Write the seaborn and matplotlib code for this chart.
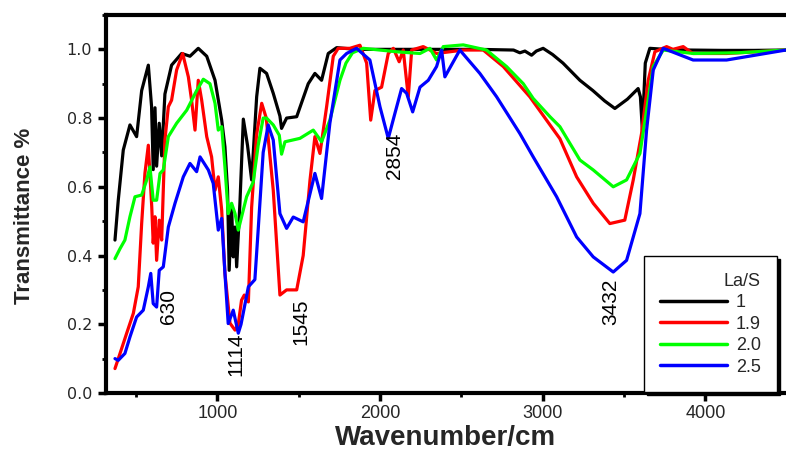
import matplotlib
matplotlib.use("Agg")
import matplotlib.pyplot as plt
import seaborn as sns
import pandas as pd
from matplotlib.ticker import MultipleLocator, FixedLocator

# ---------------- data ----------------
wn_1 = [370, 390, 421, 462, 503, 534, 575, 595, 605, 616, 626, 642, 657, 677, 718, 780, 831, 882, 934, 985,
        1026, 1046, 1062, 1072, 1087, 1097, 1108, 1118, 1138, 1159, 1185, 1210, 1241, 1261, 1302, 1343, 1384,
        1394, 1425, 1487, 1558, 1599, 1640, 1681, 1733, 1850, 2000, 2300, 2600, 2820, 2859, 2890, 2931, 2960,
        3002, 3060, 3124, 3228, 3308, 3380, 3443, 3520, 3586, 3600, 3612, 3630, 3658, 3750, 3900, 4100, 4300, 4494]
t_1 = [0.445, 0.56, 0.707, 0.78, 0.746, 0.88, 0.954, 0.833, 0.65, 0.83, 0.66, 0.785, 0.69, 0.87, 0.954, 0.988,
       0.98, 1.003, 0.98, 0.91, 0.794, 0.716, 0.59, 0.357, 0.54, 0.396, 0.483, 0.367, 0.552, 0.797, 0.72, 0.62,
       0.862, 0.945, 0.93, 0.872, 0.806, 0.77, 0.80, 0.804, 0.90, 0.93, 0.91, 0.988, 1.005, 1.0, 1.0, 1.0, 1.0,
       0.998, 0.99, 0.995, 0.983, 0.995, 1.003, 0.985, 0.96, 0.91, 0.88, 0.85, 0.828, 0.855, 0.886, 0.862, 0.765,
       0.96, 1.003, 1.0, 0.998, 0.997, 0.997, 0.998]

wn_19 = [370, 401, 442, 483, 513, 534, 554, 575, 596, 605, 616, 626, 642, 657, 677, 698, 718, 749, 786, 821,
         841, 862, 882, 903, 934, 964, 985, 1005, 1026, 1046, 1077, 1108, 1128, 1148, 1165, 1190, 1210, 1240,
         1272, 1300, 1343, 1384, 1425, 1487, 1527, 1569, 1599, 1630, 1671, 1712, 1742, 1814, 1876, 1917, 1942,
         1968, 2009, 2050, 2081, 2117, 2142, 2173, 2194, 2265, 2347, 2511, 2634, 2757, 2920, 3023, 3105, 3208,
         3310, 3412, 3504, 3556, 3607, 3648, 3689, 3761, 3800, 3863, 3922, 4130, 4494]
t_19 = [0.071, 0.115, 0.174, 0.232, 0.309, 0.493, 0.639, 0.721, 0.542, 0.436, 0.513, 0.386, 0.503, 0.445,
        0.736, 0.833, 0.852, 0.94, 0.988, 0.92, 0.852, 0.765, 0.91, 0.852, 0.746, 0.687, 0.59, 0.629, 0.532,
        0.348, 0.203, 0.183, 0.20, 0.27, 0.285, 0.265, 0.54, 0.75, 0.843, 0.80, 0.59, 0.285, 0.30, 0.30, 0.40,
        0.62, 0.746, 0.697, 0.833, 0.98, 1.003, 1.003, 1.012, 0.96, 0.794, 0.88, 0.89, 0.988, 1.003, 0.964,
        0.998, 0.862, 0.998, 1.008, 0.988, 0.998, 0.998, 0.95, 0.862, 0.794, 0.74, 0.629, 0.552, 0.493, 0.503,
        0.62, 0.755, 0.91, 0.993, 1.008, 1.0, 1.008, 0.988, 0.988, 0.998]

wn_20 = [370, 401, 431, 462, 493, 534, 565, 585, 605, 626, 647, 667, 698, 749, 811, 872, 913, 954, 985, 1005,
         1026, 1046, 1066, 1087, 1108, 1128, 1179, 1220, 1250, 1281, 1302, 1343, 1380, 1394, 1415, 1507, 1589,
         1640, 1691, 1753, 1790, 1830, 1896, 2101, 2245, 2306, 2347, 2388, 2511, 2654, 2777, 2880, 2941, 3044,
         3105, 3167, 3228, 3310, 3433, 3515, 3597, 3638, 3679, 3740, 3924, 4200, 4494]
t_20 = [0.391, 0.42, 0.445, 0.513, 0.571, 0.576, 0.62, 0.658, 0.561, 0.561, 0.639, 0.649, 0.746, 0.785, 0.823,
        0.88, 0.913, 0.90, 0.843, 0.765, 0.775, 0.658, 0.522, 0.552, 0.522, 0.474, 0.571, 0.614, 0.72, 0.80,
        0.80, 0.78, 0.75, 0.695, 0.731, 0.741, 0.765, 0.731, 0.794, 0.91, 0.96, 0.99, 1.003, 0.993, 0.988,
        1.003, 0.969, 1.008, 1.013, 0.998, 0.95, 0.90, 0.857, 0.804, 0.775, 0.726, 0.678, 0.649, 0.60, 0.62,
        0.697, 0.823, 0.95, 0.998, 0.988, 0.99, 0.998]

wn_25 = [370, 390, 431, 462, 503, 544, 575, 590, 605, 626, 642, 667, 698, 739, 790, 831, 872, 893, 944, 974,
         1005, 1026, 1046, 1066, 1097, 1128, 1145, 1190, 1230, 1251, 1281, 1312, 1343, 1384, 1425, 1466, 1527,
         1599, 1640, 1691, 1753, 1794, 1855, 1937, 1999, 2050, 2091, 2132, 2163, 2200, 2245, 2296, 2347, 2378,
         2398, 2490, 2613, 2716, 2859, 2941, 3085, 3208, 3310, 3433, 3515, 3597, 3638, 3679, 3740, 3924, 4130, 4494]
t_25 = [0.10, 0.095, 0.115, 0.163, 0.221, 0.241, 0.309, 0.348, 0.26, 0.25, 0.357, 0.367, 0.483, 0.552, 0.629,
        0.668, 0.644, 0.687, 0.649, 0.61, 0.474, 0.508, 0.348, 0.202, 0.241, 0.174, 0.20, 0.309, 0.33, 0.48,
        0.70, 0.78, 0.736, 0.522, 0.479, 0.512, 0.498, 0.639, 0.566, 0.785, 0.969, 0.988, 1.003, 0.969, 0.833,
        0.741, 0.814, 0.886, 0.872, 0.818, 0.89, 0.91, 0.95, 0.998, 0.92, 0.998, 0.93, 0.862, 0.755, 0.687,
        0.571, 0.454, 0.396, 0.352, 0.386, 0.522, 0.765, 0.94, 1.003, 0.969, 0.969, 0.998]

series_labels = ["1", "1.9", "2.0", "2.5"]
series_colors = ["black", "#ff0000", "#00ff00", "#0000ff"]

peak_labels = ["630", "1114", "1545", "2854", "3432"]
peak_x = [696, 1114, 1513, 2091, 3419]
peak_y = [0.252, 0.113, 0.206, 0.69, 0.265]

# ---------------- build long-form table ----------------
frames = []
for lab, wn, t in zip(series_labels, [wn_1, wn_19, wn_20, wn_25], [t_1, t_19, t_20, t_25]):
    frames.append(pd.DataFrame({"Wavenumber": wn, "T": t, "La/S": lab}))
df = pd.concat(frames, ignore_index=True)

sns.set_style("ticks")
plt.rcParams["font.family"] = ["Liberation Sans", "DejaVu Sans"]

fig = plt.figure(figsize=(7.86, 4.53), dpi=100)
ax = fig.add_axes([0.1349, 0.1325, 0.8651, 0.8344])

sns.lineplot(data=df, x="Wavenumber", y="T", hue="La/S", hue_order=series_labels,
             palette=dict(zip(series_labels, series_colors)), estimator=None, sort=False,
             linewidth=2.3, ax=ax)

ax.set_xlim(315, 4495)
ax.set_ylim(0, 1.1)

ax.xaxis.set_major_locator(FixedLocator([1000, 2000, 3000, 4000]))
ax.xaxis.set_minor_locator(FixedLocator([500, 1500, 2500, 3500]))
ax.yaxis.set_major_locator(MultipleLocator(0.2))
ax.yaxis.set_minor_locator(MultipleLocator(0.1))
ax.yaxis.set_major_formatter(matplotlib.ticker.FormatStrFormatter("%.1f"))

for s in ["left", "top", "bottom"]:
    ax.spines[s].set_linewidth(3.0)
    ax.spines[s].set_color("black")
ax.spines["right"].set_visible(False)

ax.tick_params(axis="both", which="major", direction="out", length=6, width=2.5, color="black")
ax.tick_params(axis="both", which="minor", direction="out", length=3, width=2.0, color="black")
ax.tick_params(axis="x", which="major", labelsize=13, pad=3)
ax.tick_params(axis="y", which="major", labelsize=11.5, pad=4)
for lab in ax.get_yticklabels():
    lab.set_family("DejaVu Sans")

ax.set_xlabel("Wavenumber/cm", fontsize=20, fontweight="bold")
ax.set_ylabel("Transmittance %", fontsize=16, fontweight="bold")
ax.xaxis.set_label_coords(0.5, -0.085)
ax.yaxis.set_label_coords(-0.105, 0.468)

for s, x, y in zip(peak_labels, peak_x, peak_y):
    ax.text(x, y, s, rotation=90, ha="center", va="center", fontsize=15, color="black")

leg = ax.legend(title="La/S", loc="lower left", bbox_to_anchor=(0.791, 0.003),
                borderaxespad=0, fontsize=13, title_fontsize=13, frameon=True, fancybox=False,
                shadow={"color": "black", "alpha": 1.0}, handlelength=3.7, handletextpad=0.5,
                labelspacing=0.25, borderpad=0.9, alignment="right")
leg.get_frame().set_edgecolor("black")
leg.get_frame().set_linewidth(1.0)
for line in leg.get_lines():
    line.set_linewidth(2.5)

fig.savefig("out.png", dpi=100)
